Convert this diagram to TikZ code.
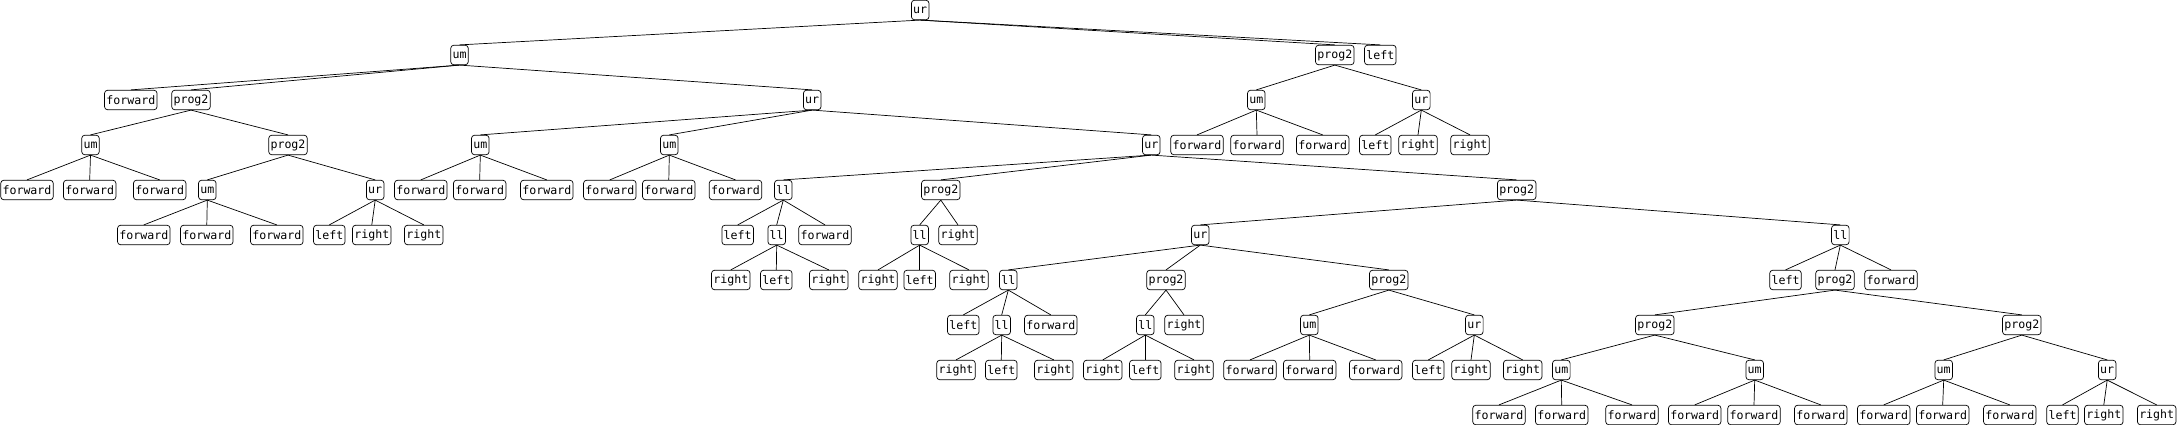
\documentclass[tikz,border=0pt]{standalone}
\usepackage{fontspec}
\usepackage{tikz}
\usetikzlibrary{shapes, arrows, calc, positioning}
\newfontfamily\genefont{DejaVu Sans Mono}

\begin{document}
\begin{tikzpicture}[x=1pt, y=1pt, line width=0.7pt]
	\tikzstyle{gene} = [draw, rounded corners=3pt, fill=white, inner xsep=1.8pt, inner ysep=0pt, minimum height=19.5pt, font=\genefont\fontsize{11.6}{12}\selectfont]

	\useasboundingbox (0,0) rectangle (2177,-425);

	\path
		% levels 0 to 2
		node[gene] (1) at (920.2,-10) {ur}
		node[gene] (2) at (459.5,-55) {um}
		node[gene] (3) at (1334.8,-55) {prog2}
		node[gene] (4) at (1380.3,-55) {left}
		node[gene] (5) at (130.8,-100) {forward}
		node[gene] (6) at (191,-100) {prog2}
		node[gene] (7) at (812.2,-100) {ur}
		node[gene] (89) at (1256.3,-100) {um}
		node[gene] (90) at (1421.3,-100) {ur}

		% left part
		node[gene] (8) at (90.5,-145) {um}
		node[gene] (9) at (288,-145) {prog2}
		node[gene] (10) at (27,-190) {forward}
		node[gene] (11) at (89.7,-190) {forward}
		node[gene] (12) at (159.7,-190) {forward}
		node[gene] (13) at (207.3,-190) {um}
		node[gene] (14) at (375.2,-190) {ur}
		node[gene] (15) at (143.8,-235) {forward}
		node[gene] (16) at (206.8,-235) {forward}
		node[gene] (17) at (276.8,-235) {forward}
		node[gene] (18) at (329.3,-235) {left}
		node[gene] (19) at (371.8,-235) {right}
		node[gene] (20) at (423.8,-235) {right}

		% middle part
		node[gene] (21) at (480.3,-145) {um}
		node[gene] (22) at (669.3,-145) {um}
		node[gene] (23) at (1151.3,-145) {ur}
		node[gene] (24) at (420.8,-190) {forward}
		node[gene] (25) at (479.7,-190) {forward}
		node[gene] (26) at (546.8,-190) {forward}
		node[gene] (27) at (609.8,-190) {forward}
		node[gene] (28) at (668.8,-190) {forward}
		node[gene] (29) at (735.5,-190) {forward}
		node[gene] (30) at (783.3,-190) {ll}
		node[gene] (31) at (940.8,-190) {prog2}
		node[gene] (32) at (1516.7,-190) {prog2}
		node[gene] (33) at (737.7,-235) {left}
		node[gene] (34) at (776.7,-235) {ll}
		node[gene] (35) at (825,-235) {forward}
		node[gene] (36) at (730.8,-280) {right}
		node[gene] (37) at (776.3,-280) {left}
		node[gene] (38) at (828.8,-280) {right}
		node[gene] (39) at (919.7,-235) {ll}
		node[gene] (40) at (958,-235) {right}
		node[gene] (41) at (878,-280) {right}
		node[gene] (42) at (919.7,-280) {left}
		node[gene] (43) at (969,-280) {right}
		node[gene] (44) at (1200.3,-235) {ur}
		node[gene] (45) at (1840.3,-235) {ll}
		node[gene] (46) at (1008.3,-280) {ll}
		node[gene] (47) at (1166,-280) {prog2}
		node[gene] (48) at (1388.8,-280) {prog2}
		node[gene] (49) at (963.3,-325) {left}
		node[gene] (50) at (1001.7,-325) {ll}
		node[gene] (51) at (1050.8,-325) {forward}
		node[gene] (52) at (956,-370) {right}
		node[gene] (53) at (1001.3,-370) {left}
		node[gene] (54) at (1053.8,-370) {right}
		node[gene] (55) at (1145.3,-325) {ll}
		node[gene] (56) at (1184,-325) {right}
		node[gene] (57) at (1102.8,-370) {right}
		node[gene] (58) at (1145.3,-370) {left}
		node[gene] (59) at (1194,-370) {right}
		node[gene] (60) at (1309.3,-325) {um}
		node[gene] (61) at (1474.3,-325) {ur}
		node[gene] (62) at (1250,-370) {forward}
		node[gene] (63) at (1309.7,-370) {forward}
		node[gene] (64) at (1375.7,-370) {forward}
		node[gene] (65) at (1428.3,-370) {left}
		node[gene] (66) at (1471,-370) {right}
		node[gene] (67) at (1522.7,-370) {right}

		% right part
		node[gene] (68) at (1785.5,-280) {left}
		node[gene] (69) at (1835,-280) {prog2}
		node[gene] (70) at (1891,-280) {forward}
		node[gene] (71) at (1654.8,-325) {prog2}
		node[gene] (72) at (2021.8,-325) {prog2}
		node[gene] (73) at (1561.3,-370) {um}
		node[gene] (74) at (1754.7,-370) {um}
		node[gene] (75) at (1499,-415) {forward}
		node[gene] (76) at (1561.7,-415) {forward}
		node[gene] (77) at (1632,-415) {forward}
		node[gene] (78) at (1694.7,-415) {forward}
		node[gene] (79) at (1754,-415) {forward}
		node[gene] (80) at (1820.8,-415) {forward}
		node[gene] (81) at (1943.7,-370) {um}
		node[gene] (82) at (2107.2,-370) {ur}
		node[gene] (83) at (1883.7,-415) {forward}
		node[gene] (84) at (1942.7,-415) {forward}
		node[gene] (85) at (2009.8,-415) {forward}
		node[gene] (86) at (2062.5,-415) {left}
		node[gene] (87) at (2103.8,-415) {right}
		node[gene] (88) at (2156.7,-415) {right}

		% upper right part
		node[gene] (91) at (1197,-145) {forward}
		node[gene] (92) at (1257,-145) {forward}
		node[gene] (93) at (1322.7,-145) {forward}
		node[gene] (94) at (1375.3,-145) {left}
		node[gene] (95) at (1418,-145) {right}
		node[gene] (96) at (1470,-145) {right}

		(1.south) edge (2.north) edge (3.north) edge (4.north)
		(2.south) edge (5.north) edge (6.north) edge (7.north)
		(6.south) edge (8.north) edge (9.north)
		(8.south) edge (10.north) edge (11.north) edge (12.north)
		(9.south) edge (13.north) edge (14.north)
		(13.south) edge (15.north) edge (16.north) edge (17.north)
		(14.south) edge (18.north) edge (19.north) edge (20.north)
		(7.south) edge (21.north) edge (22.north) edge (23.north)
		(21.south) edge (24.north) edge (25.north) edge (26.north)
		(22.south) edge (27.north) edge (28.north) edge (29.north)
		(23.south) edge (30.north) edge (31.north) edge (32.north)
		(30.south) edge (33.north) edge (34.north) edge (35.north)
		(34.south) edge (36.north) edge (37.north) edge (38.north)
		(31.south) edge (39.north) edge (40.north)
		(39.south) edge (41.north) edge (42.north) edge (43.north)
		(32.south) edge (44.north) edge (45.north)
		(44.south) edge (46.north) edge (47.north) edge (48.north)
		(46.south) edge (49.north) edge (50.north) edge (51.north)
		(50.south) edge (52.north) edge (53.north) edge (54.north)
		(47.south) edge (55.north) edge (56.north)
		(55.south) edge (57.north) edge (58.north) edge (59.north)
		(48.south) edge (60.north) edge (61.north)
		(60.south) edge (62.north) edge (63.north) edge (64.north)
		(61.south) edge (65.north) edge (66.north) edge (67.north)
		(45.south) edge (68.north) edge (69.north) edge (70.north)
		(69.south) edge (71.north) edge (72.north)
		(71.south) edge (73.north) edge (74.north)
		(73.south) edge (75.north) edge (76.north) edge (77.north)
		(74.south) edge (78.north) edge (79.north) edge (80.north)
		(72.south) edge (81.north) edge (82.north)
		(81.south) edge (83.north) edge (84.north) edge (85.north)
		(82.south) edge (86.north) edge (87.north) edge (88.north)
		(3.south) edge (89.north) edge (90.north)
		(89.south) edge (91.north) edge (92.north) edge (93.north)
		(90.south) edge (94.north) edge (95.north) edge (96.north)
	;
\end{tikzpicture}
\end{document}
